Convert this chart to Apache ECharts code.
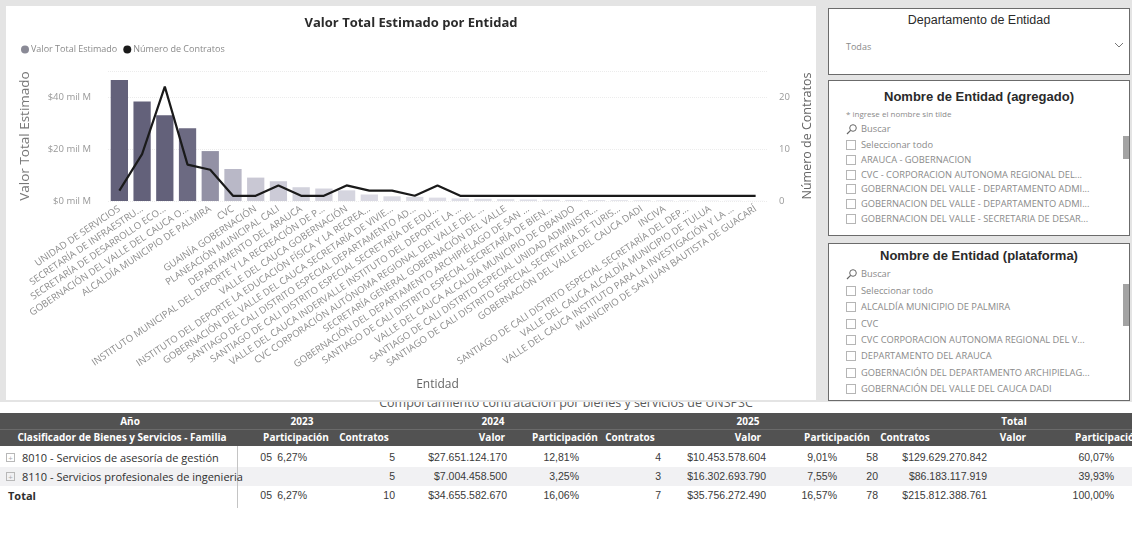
<!DOCTYPE html>
<html><head><meta charset="utf-8">
<script src="https://cdn.jsdelivr.net/npm/echarts@6/dist/echarts.min.js"></script>
<style>
html,body{margin:0;padding:0;width:1132px;height:541px;overflow:hidden;background:#e4e4e4;font-family:'Open Sans',sans-serif;}
#panel{position:absolute;left:6px;top:6px;width:810px;height:394px;background:#fff;}
#chart{position:absolute;left:0;top:0;width:822px;height:400px;}
.slicer{position:absolute;left:828px;width:302px;background:#fff;border:1px solid #6b6b6b;box-sizing:border-box;overflow:hidden;}
.st{position:absolute;left:0;width:100%;text-align:center;font-family:'Liberation Sans',Arial,sans-serif;color:#2a2a2a;white-space:nowrap;}
.abs{position:absolute;white-space:nowrap;}
.item{position:absolute;left:32px;font-size:9.3px;color:#8a8a8a;white-space:nowrap;line-height:12px;}
.cb{position:absolute;left:17px;width:8px;height:8px;border:1px solid #b5b5b5;}
.thumb{position:absolute;left:294px;width:6px;background:#a3a3a3;}
#table{position:absolute;left:0;top:402px;width:1132px;height:139px;background:#fff;overflow:hidden;}
.hd{position:absolute;left:0;width:1132px;background:#4f4f4f;}
.ht{position:absolute;color:#fff;font-weight:bold;font-size:10px;font-family:'Open Sans',sans-serif;white-space:nowrap;transform:translateX(-50%);line-height:14px;}
.cell{position:absolute;font-family:'Liberation Sans',Arial,sans-serif;font-size:10.5px;color:#3a3a3a;white-space:nowrap;line-height:19px;}
.rl{position:absolute;left:22px;font-size:11px;color:#2f2f2f;white-space:nowrap;line-height:19px;}
</style></head>
<body>
<div id="panel"></div>
<div id="chart"></div>

<div class="slicer" style="top:8px;height:67px;">
  <div class="st" style="top:4px;font-size:12.5px;">Departamento de Entidad</div>
  <div class="abs" style="left:17px;top:31px;font-size:9px;color:#8a8a8a;">Todas</div>
  <svg class="abs" style="left:285px;top:33px;" width="10" height="7"><polyline points="1,1 5,5 9,1" fill="none" stroke="#777" stroke-width="1"/></svg>
</div>

<div class="slicer" id="s2" style="top:80px;height:156px;">
  <div class="st" style="top:8px;font-size:13px;font-weight:bold;">Nombre de Entidad (agregado)</div>
  <div class="abs" style="left:17px;top:27px;font-size:8px;color:#8a8a8a;">* ingrese el nombre sin tilde</div>
  <svg class="abs" style="left:17px;top:43px;" width="11" height="11"><circle cx="7" cy="4" r="3.3" fill="none" stroke="#666" stroke-width="1"/><line x1="4.6" y1="6.4" x2="1" y2="10" stroke="#666" stroke-width="1.2"/></svg>
  <div class="abs" style="left:32px;top:41px;font-size:9.3px;color:#8a8a8a;">Buscar</div>
  <div class="thumb" style="top:55px;height:23px;"></div>
</div>

<div class="slicer" id="s3" style="top:243px;height:158px;">
  <div class="st" style="top:4px;font-size:13px;font-weight:bold;">Nombre de Entidad (plataforma)</div>
  <svg class="abs" style="left:17px;top:25px;" width="11" height="11"><circle cx="7" cy="4" r="3.3" fill="none" stroke="#666" stroke-width="1"/><line x1="4.6" y1="6.4" x2="1" y2="10" stroke="#666" stroke-width="1.2"/></svg>
  <div class="abs" style="left:32px;top:23px;font-size:9.3px;color:#8a8a8a;">Buscar</div>
  <div class="thumb" style="top:40px;height:42px;"></div>
</div>

<div id="table">
  <div class="abs" style="left:0;width:1132px;top:-8px;text-align:center;font-size:12.5px;color:#5a5a5a;">Comportamiento contratación por bienes y servicios de UNSPSC</div>
</div>

<script>
// ---------------- chart data ----------------
const categories = [
  'UNIDAD DE SERVICIOS',
  'SECRETARÍA DE INFRAESTRU...',
  'SECRETARÍA DE DESARROLLO ECO...',
  'GOBERNACIÓN DEL VALLE DEL CAUCA O...',
  'ALCALDÍA MUNICIPIO DE PALMIRA',
  'CVC',
  'GUAINÍA GOBERNACIÓN',
  'PLANEACIÓN MUNICIPAL CALI',
  'DEPARTAMENTO DEL ARAUCA',
  'INSTITUTO MUNICIPAL DEL DEPORTE Y LA RECREACIÓN DE P...',
  'VALLE DEL CAUCA GOBERNACIÓN',
  'INSTITUTO DEL DEPORTE LA EDUCACIÓN FÍSICA Y LA RECREA...',
  'GOBERNACIÓN DEL VALLE DEL CAUCA SECRETARÍA DE VIVIE...',
  'SANTIAGO DE CALI DISTRITO ESPECIAL DEPARTAMENTO AD...',
  'SANTIAGO DE CALI DISTRITO ESPECIAL SECRETARÍA DE EDU...',
  'VALLE DEL CAUCA INDERVALLE INSTITUTO DEL DEPORTE LA ...',
  'CVC CORPORACIÓN AUTÓNOMA REGIONAL DEL VALLE DEL ...',
  'SECRETARÍA GENERAL GOBERNACIÓN DEL VALLE',
  'GOBERNACIÓN DEL DEPARTAMENTO ARCHIPIÉLAGO DE SAN ...',
  'SANTIAGO DE CALI DISTRITO ESPECIAL SECRETARÍA DE BIEN...',
  'VALLE DEL CAUCA ALCALDÍA MUNICIPIO DE OBANDO',
  'SANTIAGO DE CALI DISTRITO ESPECIAL UNIDAD ADMINISTR...',
  'SANTIAGO DE CALI DISTRITO ESPECIAL SECRETARÍA DE TURIS...',
  'GOBERNACIÓN DEL VALLE DEL CAUCA DADI',
  'INCIVA',
  'SANTIAGO DE CALI DISTRITO ESPECIAL SECRETARÍA DEL DEP...',
  'VALLE DEL CAUCA ALCALDÍA MUNICIPIO DE TULUA',
  'VALLE DEL CAUCA INSTITUTO PARA LA INVESTIGACIÓN Y LA ...',
  'MUNICIPIO DE SAN JUAN BAUTISTA DE GUACARÍ'
];
// Valor Total Estimado, in "mil M" (miles de millones)
const valorTotalEstimado = [46.5, 38.3, 33.0, 28.0, 19.2, 12.3, 9.0, 7.6, 5.3, 4.8, 4.1, 2.5, 1.8, 1.6, 1.3, 1.0, 0.85, 0.7, 0.6, 0.5, 0.42, 0.36, 0.3, 0.25, 0.2, 0.16, 0.12, 0.09, 0.06];
const numeroContratos = [2, 9, 22, 7, 6, 1, 1, 3, 1, 1, 3, 2, 2, 1, 3, 1, 1, 1, 1, 1, 1, 1, 1, 1, 1, 1, 1, 1, 1];
const leftTicksInterval = 20;
const rightTicksInterval = 10;

// ---------------- slicer data ----------------
const slicerAgregado = ['Seleccionar todo', 'ARAUCA - GOBERNACION', 'CVC - CORPORACION AUTONOMA REGIONAL DEL...', 'GOBERNACION DEL VALLE - DEPARTAMENTO ADMI...', 'GOBERNACION DEL VALLE - DEPARTAMENTO ADMI...', 'GOBERNACION DEL VALLE - SECRETARIA DE DESAR...'];
const slicerPlataforma = ['Seleccionar todo', 'ALCALDÍA MUNICIPIO DE PALMIRA', 'CVC', 'CVC CORPORACION AUTONOMA REGIONAL DEL V...', 'DEPARTAMENTO DEL ARAUCA', 'GOBERNACIÓN DEL DEPARTAMENTO ARCHIPIELAG...', 'GOBERNACIÓN DEL VALLE DEL CAUCA DADI'];

// ---------------- table data ----------------
const tableYears = ['2023', '2024', '2025', 'Total'];
const tableRowLabels = ['8010 - Servicios de asesoría de gestión', '8110 - Servicios profesionales de ingenieria', 'Total'];
const valor2023Tail = ['05', '', '05'];
const part2023 = ['6,27%', '', '6,27%'];
const contr2024 = ['5', '5', '10'];
const valor2024 = ['$27.651.124.170', '$7.004.458.500', '$34.655.582.670'];
const part2024 = ['12,81%', '3,25%', '16,06%'];
const contr2025 = ['4', '3', '7'];
const valor2025 = ['$10.453.578.604', '$16.302.693.790', '$35.756.272.490'];
const part2025 = ['9,01%', '7,55%', '16,57%'];
const contrTotal = ['58', '20', '78'];
const valorTotal = ['$129.629.270.842', '$86.183.117.919', '$215.812.388.761'];
const partTotal = ['60,07%', '39,93%', '100,00%'];

// ---------------- chart ----------------
const chart = echarts.init(document.getElementById('chart'), null, {renderer: 'canvas'});
chart.setOption({
  animation: false,
  title: {
    text: 'Valor Total Estimado por Entidad',
    left: 'center', top: 12,
    textStyle: {fontFamily: 'Open Sans', fontSize: 13, fontWeight: 'bold', color: '#2b2b2b'}
  },
  legend: {
    left: 16, top: 40, icon: 'circle', itemWidth: 8, itemHeight: 8, itemGap: 6,
    textStyle: {fontFamily: 'Open Sans', fontSize: 9, color: '#8a8a8a', padding: [0, 0, 0, -3]},
    data: [{name: 'Valor Total Estimado', itemStyle: {color: '#8a8a96'}}, {name: 'Número de Contratos', itemStyle: {color: '#1a1a1a'}}]
  },
  grid: {left: 108, right: 46, top: 71, bottom: 199, containLabel: false},
  xAxis: {
    type: 'category', data: categories,
    name: 'Entidad', nameLocation: 'middle', nameGap: 178,
    nameTextStyle: {fontFamily: 'Open Sans', fontSize: 12, color: '#666'},
    axisLine: {show: false}, axisTick: {show: false},
    axisLabel: {interval: 0, rotate: 34, fontFamily: 'Open Sans', fontSize: 9.6, color: '#8c8c8c', margin: 7}
  },
  visualMap: {
    show: false, seriesIndex: 0, min: 0, max: 30,
    inRange: {color: ['#e0e0e8', '#c6c5d2', '#8f8da1', '#63617a']}
  },
  yAxis: [{
    type: 'value', min: 0, max: 50, interval: leftTicksInterval,
    name: 'Valor Total Estimado', nameLocation: 'middle', nameRotate: 90, nameGap: 76,
    nameTextStyle: {fontFamily: 'Open Sans', fontSize: 13.5, color: '#777'},
    axisLine: {show: false}, axisTick: {show: false}, splitLine: {show: false},
    axisLabel: {showMaxLabel: false, fontFamily: 'Open Sans', fontSize: 9.5, color: '#999', margin: 17,
      formatter: v => '$' + v + ' mil M'}
  }, {
    type: 'value', min: 0, max: 25, interval: rightTicksInterval,
    name: 'Número de Contratos', nameLocation: 'middle', nameRotate: 90, nameGap: 34,
    nameTextStyle: {fontFamily: 'Open Sans', fontSize: 12.5, color: '#666'},
    axisLine: {show: false}, axisTick: {show: false},
    splitLine: {show: true, lineStyle: {color: '#ececec', type: 'dotted'}},
    axisLabel: {showMaxLabel: false, fontFamily: 'Open Sans', fontSize: 9.5, color: '#999', margin: 12}
  }],
  series: [{
    name: 'Valor Total Estimado', type: 'bar', data: valorTotalEstimado,
    barWidth: '76%', yAxisIndex: 0
  }, {
    name: 'Número de Contratos', type: 'line', data: numeroContratos, yAxisIndex: 1,
    showSymbol: false, symbol: 'none', lineStyle: {color: '#1a1a1a', width: 2.2}, itemStyle: {color: '#1a1a1a'}
  }]
});

// ---------------- slicers ----------------
function fillSlicer(id, items, top0, step) {
  const el = document.getElementById(id);
  items.forEach((t, i) => {
    const y = top0 + i * step;
    el.insertAdjacentHTML('beforeend',
      '<div class="cb" style="top:' + (y + 1) + 'px"></div><div class="item" style="top:' + y + 'px">' + t + '</div>');
  });
}
fillSlicer('s2', slicerAgregado, 58, 14.8);
fillSlicer('s3', slicerPlataforma, 41, 16.3);

// ---------------- table ----------------
const tbl = document.getElementById('table');
const H1 = 11, H2 = 26, HH = 16; // header rows (relative to table top)
tbl.insertAdjacentHTML('beforeend', '<div class="hd" style="top:' + H1 + 'px;height:' + (HH + 17) + 'px;background:#525252"></div>');
tbl.insertAdjacentHTML('beforeend', '<div class="abs" style="left:0;top:' + (H1 + HH) + 'px;width:1132px;height:1px;background:#6a6a6a"></div>');
function ht(text, cx, top, extra) {
  tbl.insertAdjacentHTML('beforeend', '<div class="ht" style="left:' + cx + 'px;top:' + top + 'px;' + (extra || '') + '">' + text + '</div>');
}
ht('Año', 130, H1 + 1);
const yearCenters = [302, 493, 748, 1014];
tableYears.forEach((y, i) => ht(y, yearCenters[i], H1 + 1));
ht('Clasificador de Bienes y Servicios - Familia', 122, H2 + 2);
const subHeads = [['Participación', 296], ['Contratos', 364], ['Valor', 492], ['Participación', 565], ['Contratos', 630], ['Valor', 748], ['Participación', 837], ['Contratos', 905], ['Valor', 1013], ['Participación', 1108]];
subHeads.forEach(s => ht(s[0], s[1], H2 + 2));

const rowTops = [46, 65, 84];
tbl.insertAdjacentHTML('beforeend', '<div class="abs" style="left:0;top:' + rowTops[1] + 'px;width:1132px;height:19px;background:#f1f1f3"></div>');
tbl.insertAdjacentHTML('beforeend', '<div class="abs" style="left:237px;top:' + (rowTops[0] - 2) + 'px;width:1px;height:62px;background:#c4c4c4"></div>');
const cols = [
  [valor2023Tail, 272], [part2023, 307], [contr2024, 395], [valor2024, 507], [part2024, 579],
  [contr2025, 661], [valor2025, 766], [part2025, 837], [contrTotal, 878], [valorTotal, 987], [partTotal, 1114]
];
tableRowLabels.forEach((lab, r) => {
  const top = rowTops[r];
  if (r < 2) {
    tbl.insertAdjacentHTML('beforeend', '<div class="abs" style="left:6px;top:' + (top + 5) + 'px;width:7px;height:7px;border:1px solid #b8b8b8;font-size:8px;line-height:7px;text-align:center;color:#aaa">+</div>');
  }
  tbl.insertAdjacentHTML('beforeend', '<div class="rl" style="top:' + top + 'px;' + (r === 2 ? 'left:8px;font-weight:bold;' : '') + '">' + lab + '</div>');
  cols.forEach(c => {
    const txt = c[0][r];
    if (!txt) return;
    tbl.insertAdjacentHTML('beforeend', '<div class="cell" style="top:' + top + 'px;right:' + (1132 - c[1]) + 'px">' + txt + '</div>');
  });
});
</script>
</body></html>
